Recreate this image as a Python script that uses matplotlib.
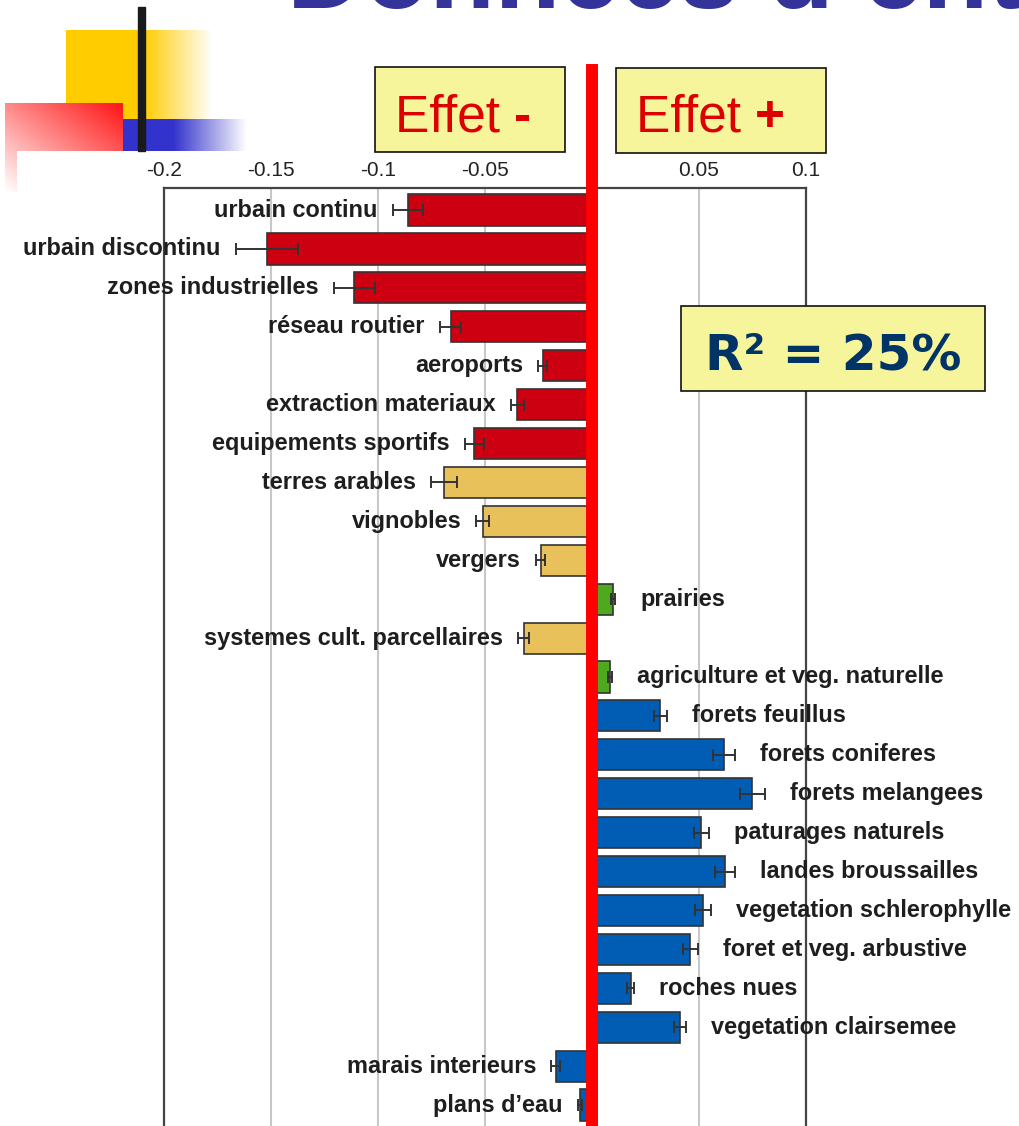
# Effets des classes d'occupation du sol (coefficients + erreur standard)
import numpy as np
import matplotlib.pyplot as plt
from matplotlib import font_manager

categories = ["urbain continu", "urbain discontinu", "zones industrielles",
              "réseau routier", "aeroports", "extraction materiaux",
              "equipements sportifs", "terres arables", "vignobles", "vergers",
              "prairies", "systemes cult. parcellaires",
              "agriculture et veg. naturelle", "forets feuillus",
              "forets coniferes", "forets melangees", "paturages naturels",
              "landes broussailles", "vegetation schlerophylle",
              "foret et veg. arbustive", "roches nues", "vegetation clairsemee",
              "marais interieurs", "plans d’eau"]
effects = [-0.086, -0.152, -0.111, -0.066, -0.023, -0.035, -0.055,
           -0.069, -0.051, -0.024, 0.0098, -0.032, 0.0084, 0.032,
           0.0617, 0.075, 0.051, 0.062, 0.052, 0.046, 0.018, 0.041,
           -0.017, -0.0056]
errors = [0.007, 0.0145, 0.0095, 0.005, 0.002, 0.003, 0.0045,
          0.006, 0.003, 0.002, 0.001, 0.0025, 0.0008, 0.003,
          0.005, 0.006, 0.0035, 0.0047, 0.0037, 0.0035, 0.0016, 0.0028,
          0.002, 0.001]
groups = (["urbain"] * 7 + ["agricole"] * 3 + ["prairie", "agricole", "prairie"]
          + ["naturel"] * 11)
tick_values = [-0.2, -0.15, -0.1, -0.05, 0, 0.05, 0.1]
tick_labels = ["-0.2", "-0.15", "-0.1", "-0.05", "0", "0.05", "0.1"]

group_colors = {"urbain": "#CC0010", "agricole": "#E9C15A",
                "prairie": "#4DAA1F", "naturel": "#005DB3"}

names = {f.name for f in font_manager.fontManager.ttflist}
if "Liberation Sans Narrow" in names:
    tick_font, tick_size = "Liberation Sans Narrow", 17
else:
    tick_font, tick_size = "Liberation Sans", 15
plt.rcParams["font.family"] = ["Liberation Sans", "DejaVu Sans"]

W, H = 1020, 1126
fig = plt.figure(figsize=(W / 100, H / 100), dpi=100)

# main chart, placed in pixel terms
ax_left, ax_right, ax_top, ax_bottom = 164, 806, 188, 1135
ax = fig.add_axes([ax_left / W, 1 - ax_bottom / H,
                   (ax_right - ax_left) / W, (ax_bottom - ax_top) / H])

y = np.arange(len(categories))
colors = [group_colors[g] for g in groups]
ax.barh(y, effects, height=0.8, color=colors, edgecolor="#333333", linewidth=1.2,
        xerr=errors, error_kw=dict(ecolor="#333333", elinewidth=1.4,
                                   capsize=4.5, capthick=1.4), zorder=3)

for i, (name, v, e) in enumerate(zip(categories, effects, errors)):
    if v < 0:
        ax.annotate(name, xy=(v - e, i), xytext=(-11, 0), textcoords="offset points",
                    ha="right", va="center", fontsize=16.9, fontweight="bold",
                    color="#1e1e1e", annotation_clip=False, zorder=5)
    else:
        ax.annotate(name, xy=(v + e, i), xytext=(18, 0), textcoords="offset points",
                    ha="left", va="center", fontsize=16.9, fontweight="bold",
                    color="#1e1e1e", annotation_clip=False, zorder=5)

ax.set_xlim(-0.2, 0.1)
ax.set_ylim(23.77, -0.566)
ax.set_yticks([])
ax.xaxis.tick_top()
ax.set_xticks(tick_values)
ax.set_xticklabels(tick_labels, fontfamily=tick_font, fontsize=tick_size,
                   color="#222222")
ax.tick_params(axis="x", length=0, pad=6)
ax.grid(axis="x", color="#c8c8c8", linewidth=1.5)
ax.set_axisbelow(True)
for side in ["left", "right", "top"]:
    ax.spines[side].set_color("#444444")
    ax.spines[side].set_linewidth(1.6)
ax.spines["bottom"].set_visible(False)

# red zero line running up past the frame
h_px = ax_bottom - ax_top
ax.axvline(0, ymin=(ax_bottom - 1122) / h_px, ymax=1 + (ax_top - 70) / h_px,
           color="#FF0000", linewidth=8.6, clip_on=False, zorder=6)

# overlay in pixel coordinates for slide decorations and boxes
ov = fig.add_axes([0, 0, 1, 1], zorder=10)
ov.patch.set_visible(False)
ov.axis("off")


def hfade(w, h, rgb, solid):
    # solid colour for `solid` px then linear fade to white
    t = np.ones(w)
    n = w - solid
    t[solid:] = np.linspace(1, 0, n)
    img = np.ones((h, w, 3))
    for k in range(3):
        img[:, :, k] = 1 - t[None, :] * (1 - rgb[k])
    return img


yellow = hfade(147, 121, (1.0, 0.8, 0.0), 77)
ov.imshow(yellow, extent=(66, 213, 151, 30), origin="upper", aspect="auto",
          interpolation="bilinear", zorder=1)
blue = hfade(124, 32, (0.2, 0.2, 0.8), 50)
ov.imshow(blue, extent=(123, 247, 151, 119), origin="upper", aspect="auto",
          interpolation="bilinear", zorder=2)

xx, yy = np.meshgrid(np.linspace(0, 1, 118), np.linspace(0, 1, 89))
t = np.clip(0.5 * xx + 0.5 * (1 - yy), 0, 1)
red = np.ones((89, 118, 4))
red[:, :, 1] = 1 - t * 0.92
red[:, :, 2] = 1 - t * 0.92
red[(xx > 12 / 118) & (yy > 48 / 89), 3] = 0
ov.imshow(red, extent=(5, 123, 192, 103), origin="upper", aspect="auto",
          interpolation="nearest", zorder=3)
ov.add_patch(plt.Rectangle((138, 7), 7, 144, color="#1a1a1a", zorder=4))

# title, mostly cut off by the top of the slide
ov.text(287, 8, "Données d’entrée", fontsize=77, fontweight="bold",
        color="#333399", ha="left", va="baseline", zorder=5)

box_fc = "#F7F59B"
ov.add_patch(plt.Rectangle((375, 67), 190, 85, facecolor=box_fc,
                           edgecolor="#111111", linewidth=1.2, zorder=5))
ov.add_patch(plt.Rectangle((616, 68), 210, 85, facecolor=box_fc,
                           edgecolor="#111111", linewidth=1.2, zorder=5))
ov.add_patch(plt.Rectangle((681, 306), 304, 85, facecolor=box_fc,
                           edgecolor="#111111", linewidth=1.2, zorder=5))

for x0, sign in [(395, "-"), (636, "+")]:
    t1 = ov.text(x0, 131, "Effet ", fontsize=37, color="#DD0000",
                 ha="left", va="baseline", zorder=6)
    ov.annotate(sign, xy=(1, 0), xycoords=t1, xytext=(0, 0),
                textcoords="offset points", fontsize=37, fontweight="bold",
                color="#DD0000", ha="left", va="bottom", zorder=6)

ov.text(833, 370, "R² = 25%", fontsize=36, fontweight="bold", color="#003366",
        family="DejaVu Sans", ha="center", va="baseline", zorder=6)

ov.set_xlim(0, W)
ov.set_ylim(H, 0)

fig.savefig("out.png", dpi=100)
